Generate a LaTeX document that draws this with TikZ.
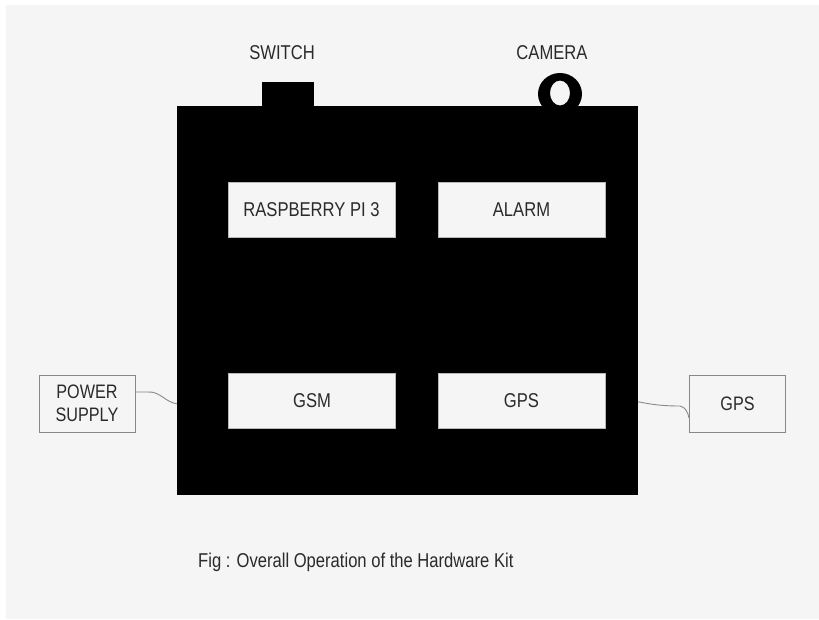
\documentclass[tikz,border=0pt]{standalone}
\usepackage{fontspec}
\setmainfont[FakeStretch=0.83]{Liberation Sans}
\usetikzlibrary{calc}
\definecolor{bgc}{HTML}{F5F5F5}
\definecolor{txt}{HTML}{2A2A2A}
\definecolor{edgec}{HTML}{888888}
\tikzset{
  inbox/.style={draw=edgec!60, line width=1pt, fill=bgc, minimum width=167pt, minimum height=55pt, inner sep=0pt, text=txt, font=\fontsize{20}{22}\selectfont},
  outbox/.style={draw=edgec, line width=1pt, fill=bgc, minimum width=96pt, minimum height=57pt, inner sep=0pt, text=txt, font=\fontsize{19.5}{23}\selectfont, align=center},
  lbl/.style={text=txt, inner sep=0pt, font=\fontsize{20}{22}\selectfont},
  wire/.style={draw=edgec, line width=0.9pt}
}
\begin{document}
\begin{tikzpicture}[x=1pt,y=-1pt]
\useasboundingbox (0,0) rectangle (819,619);
\fill[white] (0,0) rectangle (819,619);
\fill[bgc] (6,5) rectangle (819,619);
% main housing
\node[fill=black, minimum width=461pt, minimum height=389pt, inner sep=0pt] (main) at (407.5,300.5) {};
\node[fill=black, minimum width=52pt, minimum height=26pt, inner sep=0pt] (switch) at (288,95) {};
\fill[black, even odd rule] (560,94) ellipse [x radius=22pt, y radius=21pt] (560,93) ellipse [x radius=10pt, y radius=12.5pt];
\node[inner sep=0pt, minimum size=1pt] (camera) at (560,94) {};
\node[lbl] (switchlbl) at (282,53) {SWITCH};
\node[lbl] (cameralbl) at (552,53) {CAMERA};
% inner modules
\node[inbox] (rpi) at (311.5,210) {RASPBERRY PI 3};
\node[inbox] (alarm) at (521.5,210) {ALARM};
\node[inbox] (gsm) at (312,400.5) {GSM};
\node[inbox] (gpsin) at (521.5,400.5) {GPS};
% outside
\node[outbox] (ps) at (87,403.5) {POWER\\SUPPLY};
\node[outbox] (gpsout) at (737.5,403.5) {GPS};
\coordinate (mainL) at ($(main.north west)+(0,298)$);
\coordinate (mainR) at ($(main.north east)+(0,296)$);
\draw[wire] (ps.east |- 0,392) -- ++(12,0) .. controls (160,391) and (165,402) .. (mainL);
\draw[wire] (mainR) .. controls (650,404) and (660,406) .. (680,406) .. controls (685,407) and (688,412) .. (gpsout.west |- 0,418);
\node[text=txt, inner sep=0pt, font=\fontsize{20}{22}\selectfont, anchor=west] (cap) at (198,562) {Fig : Overall Operation of the Hardware Kit};
\end{tikzpicture}
\end{document}
